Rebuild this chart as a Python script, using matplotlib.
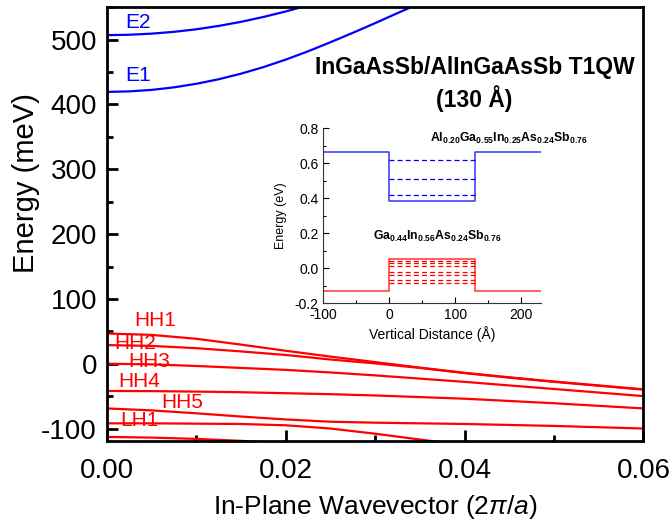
import matplotlib
matplotlib.use('Agg')
import matplotlib.pyplot as plt
import numpy as np
from matplotlib.ticker import MultipleLocator, FormatStrFormatter

# ===== datos =====
# bandas de conducción (meV) vs k (2pi/a)
k_e = [0.0, 0.0025, 0.005, 0.0075, 0.01, 0.0125, 0.015, 0.0175, 0.02, 0.0225,
       0.025, 0.0275, 0.03, 0.0325, 0.035]
E1 = [419.4, 420.2, 422.5, 426.4, 431.9, 438.9, 447.5, 457.6, 469.2, 482, 496,
      510.5, 525.5, 541, 556]
E2 = [507, 507.6, 509.3, 512.1, 516, 521.2, 527.5, 535, 543.5, 553, 563,
      574, 586, 598, 610]

# bandas de valencia (meV)
k_h = [0.0, 0.005, 0.01, 0.015, 0.02, 0.025, 0.03, 0.035, 0.04, 0.045, 0.05, 0.055, 0.06]
HH1 = [46.6, 44.5, 38.5, 29.5, 20, 11, 2.5, -6, -14, -21, -27.5, -33.5, -39.5]
HH2 = [28.7, 27.5, 24, 19, 13.5, 6.5, 0.5, -6.5, -14.5, -21.5, -28, -34, -40]
HH3 = [0, -1, -3.5, -6.5, -9.5, -13.5, -18, -23, -28, -33.5, -39, -44.5, -50]
HH4 = [-42, -42.3, -43, -44, -45.5, -47, -49, -51.5, -54, -57.5, -61, -65, -69]
HH5 = [-69, -72, -76.5, -81.5, -86, -89.5, -91, -92, -93, -94.5, -96, -98, -100]
LH1 = [-92, -92, -92.5, -93, -95, -100, -108, -117, -126, -135, -144, -153, -162]
LH2 = [-113, -114, -116, -119, -123, -127, -132, -137, -142, -147, -152, -157, -162]
hole_bands = [HH1, HH2, HH3, HH4, HH5, LH1, LH2]

# etiquetas (texto, k, E)
e_labels = [('E2', 0.0021, 526), ('E1', 0.0021, 444)]
h_labels = [('HH1', 0.0031, 66), ('HH2', 0.0009, 31), ('HH3', 0.0024, 4),
            ('HH4', 0.0013, -28), ('HH5', 0.0061, -60), ('LH1', 0.0015, -87)]

# perfil del pozo (inserto): distancia (Å) y energía (eV)
z_profile = [-100, 0, 0, 130, 130, 230]
cb_profile = [0.665, 0.665, 0.386, 0.386, 0.665, 0.665]
vb_profile = [-0.13, -0.13, 0.049, 0.049, -0.13, -0.13]
cb_levels = [0.419, 0.509, 0.619]
vb_levels = [0.040, 0.028, 0.012, -0.020, -0.042, -0.066, -0.088]

# ===== estilo =====
plt.rcParams['font.family'] = ['Liberation Sans', 'DejaVu Sans']
plt.rcParams['mathtext.fontset'] = 'custom'
plt.rcParams['mathtext.rm'] = 'Liberation Sans'
plt.rcParams['mathtext.it'] = 'Liberation Sans:italic'
plt.rcParams['mathtext.bf'] = 'Liberation Sans:bold'
plt.rcParams['axes.unicode_minus'] = False

fig = plt.figure(figsize=(6.71, 5.2), dpi=100)
ax = fig.add_axes([0.159, 0.151, 0.800, 0.835])

for E in (E1, E2):
    ax.plot(k_e, E, color='#0000ff', lw=1.6)
for band in hole_bands:
    ax.plot(k_h, band, color='#ff0000', lw=1.6)

for txt, kx, ey in e_labels:
    ax.text(kx, ey, txt, color='#0000ff', fontsize=15, va='center', ha='left')
for txt, kx, ey in h_labels:
    ax.text(kx, ey, txt, color='#ff0000', fontsize=15, va='center', ha='left')

ax.set_xlim(0, 0.06)
ax.set_ylim(-120, 550)
ax.xaxis.set_major_locator(MultipleLocator(0.02))
ax.xaxis.set_minor_locator(MultipleLocator(0.01))
ax.yaxis.set_major_locator(MultipleLocator(100))
ax.yaxis.set_minor_locator(MultipleLocator(50))
ax.xaxis.set_major_formatter(FormatStrFormatter('%.2f'))
ax.tick_params(which='both', direction='in', top=False, right=False, width=2)
ax.tick_params(which='major', length=8, labelsize=20, pad=7)
ax.tick_params(axis='x', which='major', pad=12)
ax.tick_params(which='minor', length=4.5)
for s in ax.spines.values():
    s.set_linewidth(2)

ax.set_xlabel(r'In-Plane Wavevector (2$\pi$/$a$)', fontsize=19)
ax.xaxis.set_label_coords(0.5, -0.118)
ax.set_ylabel('Energy (meV)', fontsize=21)
ax.yaxis.set_label_coords(-0.125, 0.595)

ax.text(0.685, 0.823, 'InGaAsSb/AlInGaAsSb T1QW\n(130 Å)', transform=ax.transAxes,
        ha='center', va='center', fontsize=16.5, fontweight='bold', linespacing=1.3)

# ===== inserto =====
ins = fig.add_axes([0.4818, 0.4173, 0.3244, 0.336])
ins.plot(z_profile, cb_profile, color='#3333ff', lw=1.1)
ins.plot(z_profile, vb_profile, color='#ff3333', lw=1.1)
for lv in cb_levels:
    ins.plot([0, 130], [lv, lv], color='#0000ff', lw=0.9, ls=(0, (4, 2.5)))
for lv in vb_levels:
    ins.plot([0, 130], [lv, lv], color='#ff0000', lw=0.9, ls=(0, (4, 2.5)))

ins.set_xlim(-100, 230)
ins.set_ylim(-0.2, 0.8)
ins.xaxis.set_major_locator(MultipleLocator(100))
ins.xaxis.set_minor_locator(MultipleLocator(50))
ins.yaxis.set_major_locator(MultipleLocator(0.2))
ins.yaxis.set_minor_locator(MultipleLocator(0.1))
ins.yaxis.set_major_formatter(FormatStrFormatter('%.1f'))
ins.tick_params(which='both', direction='in', labelsize=10, width=0.8)
ins.tick_params(which='major', length=4)
ins.tick_params(which='minor', length=2.5)
ins.spines['top'].set_visible(False)
ins.spines['right'].set_visible(False)
for s in ('left', 'bottom'):
    ins.spines[s].set_linewidth(0.8)
    ins.spines[s].set_color('#333333')
ins.set_xlabel('Vertical Distance (Å)', fontsize=10, labelpad=3)
ins.set_ylabel('Energy (eV)', fontsize=9, labelpad=5)
ins.patch.set_alpha(0)

ins.text(62, 0.722, r'$\mathbf{Al_{0.20}Ga_{0.55}In_{0.25}As_{0.24}Sb_{0.76}}$',
         fontsize=8.8, va='baseline', ha='left')
ins.text(-25, 0.162, r'$\mathbf{Ga_{0.44}In_{0.56}As_{0.24}Sb_{0.76}}$',
         fontsize=8.8, va='baseline', ha='left')

plt.savefig('out.png', dpi=100)
